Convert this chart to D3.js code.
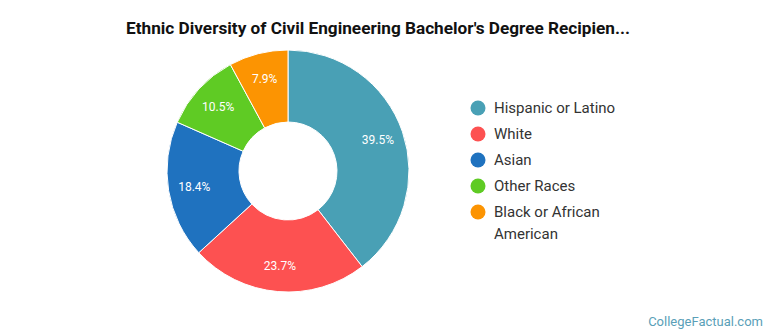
<!DOCTYPE html>
<html>
<head>
<meta charset="utf-8">
<script src="https://cdn.jsdelivr.net/npm/d3@7"></script>
<style>
  body { margin: 0; background: #fff; }
  svg { font-family: Roboto, "Open Sans", sans-serif; }
</style>
</head>
<body>
<script>
var CANVAS_WIDTH = 770;
var CANVAS_HEIGHT = 335;

var categories = ["Hispanic or Latino", "White", "Asian", "Other Races", "Black or African American"];
var legendLines = [["Hispanic or Latino"], ["White"], ["Asian"], ["Other Races"], ["Black or African", "American"]];
var shares = [39.5, 23.7, 18.4, 10.5, 7.9];
var colors = ["#49a0b5", "#fd5151", "#1f72bf", "#5fcb24", "#fc9402"];

var canvas = d3.select("body")
    .append("svg")
    .attr("width", CANVAS_WIDTH)
    .attr("height", CANVAS_HEIGHT);

canvas.append("text")
    .attr("x", 378)
    .attr("y", 34)
    .attr("text-anchor", "middle")
    .attr("font-size", "17.2px")
    .attr("font-weight", "bold")
    .attr("fill", "#111")
    .text("Ethnic Diversity of Civil Engineering Bachelor's Degree Recipien...");

var cx = 288, cy = 171;
var outerR = 121, innerR = 49, labelR = 95;

var pie = d3.pie().sort(null).value(d => d);
var arc = d3.arc().innerRadius(innerR).outerRadius(outerR);
var labelArc = d3.arc().innerRadius(labelR).outerRadius(labelR);

var g = canvas.append("g").attr("transform", "translate(" + cx + "," + cy + ")");
var arcs = pie(shares);

g.selectAll("path.slice")
    .data(arcs)
    .enter().append("path")
    .attr("class", "slice")
    .attr("d", arc)
    .attr("fill", (d, i) => colors[i])
    .attr("stroke", "#fff")
    .attr("stroke-width", 1);

g.selectAll("text.pct")
    .data(arcs)
    .enter().append("text")
    .attr("class", "pct")
    .attr("transform", d => "translate(" + labelArc.centroid(d) + ")")
    .attr("dy", ".35em")
    .attr("text-anchor", "middle")
    .attr("font-size", "12px")
    .attr("fill", "#fff")
    .text(d => d.value.toFixed(1) + "%");

// legend
var legendY = [108, 134, 160, 186, 212];
var legend = canvas.append("g");
categories.forEach(function(c, i) {
    legend.append("circle")
        .attr("cx", 478)
        .attr("cy", legendY[i])
        .attr("r", 7.5)
        .attr("fill", colors[i]);
    var t = legend.append("text")
        .attr("x", 494)
        .attr("y", legendY[i])
        .attr("dy", ".35em")
        .attr("font-size", "15px")
        .attr("fill", "#333");
    legendLines[i].forEach(function(line, j) {
        t.append("tspan")
            .attr("x", 494)
            .attr("dy", j === 0 ? ".35em" : "22px")
            .text(line);
    });
});

canvas.append("text")
    .attr("x", 763)
    .attr("y", 326)
    .attr("text-anchor", "end")
    .attr("font-size", "13px")
    .attr("fill", "#5a9fb8")
    .text("CollegeFactual.com");
</script>
</body>
</html>
